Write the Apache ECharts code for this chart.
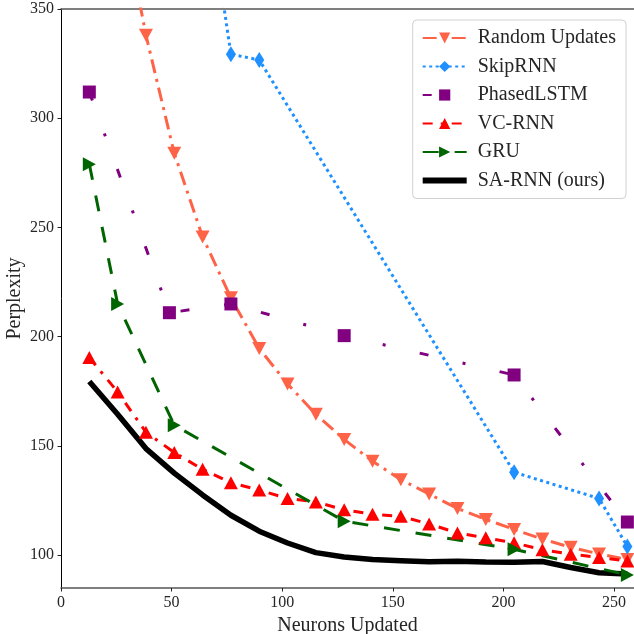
<!DOCTYPE html>
<html>
<head>
<meta charset="utf-8">
<script src="https://cdn.jsdelivr.net/npm/echarts@6/dist/echarts.min.js"></script>
<style>
  html, body { margin: 0; padding: 0; background: #fff; }
  #main { width: 634px; height: 634px; }
</style>
</head>
<body>
<div id="main"></div>
<script>
// neurons updated (x) and perplexity (y)
var xFull = [12.8, 25.6, 38.4, 51.2, 64, 76.8, 89.6, 102.4, 115.2, 128, 140.8, 153.6, 166.4, 179.2, 192, 204.8, 217.6, 230.4, 243.2, 256];

var randomX = [25.6, 38.4, 51.2, 64, 76.8, 89.6, 102.4, 115.2, 128, 140.8, 153.6, 166.4, 179.2, 192, 204.8, 217.6, 230.4, 243.2, 256];
var randomY = [405, 338, 284, 245.7, 217.8, 194.6, 178.4, 164.5, 153, 143, 134.6, 128, 121.4, 116.4, 111.8, 107.4, 103.6, 100.6, 98.1];

var skipX = [64, 76.8, 89.6, 204.8, 243.2, 256];
var skipY = [417, 329.3, 326.7, 138, 126, 104];

var phasedX = [12.8, 49, 76.8, 128, 204.8, 256];
var phasedY = [312, 211, 215, 200.5, 182.5, 115.2];

var vcY = [190.5, 174.7, 156.3, 147, 139.3, 133.2, 129.8, 126, 124.4, 120.8, 118.8, 117.8, 114.3, 110.2, 108, 105.7, 102.5, 100.5, 99, 97.4];

var gruX = [12.8, 25.6, 51.2, 128, 204.8, 256];
var gruY = [279, 215, 159.5, 115.6, 102.7, 91];

var saY = [179.5, 164.5, 148.8, 137.6, 127.6, 118.3, 111, 105.6, 101.2, 99.2, 98, 97.5, 97, 97.2, 96.9, 96.8, 97.1, 94.4, 92, 91.4];

var xTicks = [0, 50, 100, 150, 200, 250];
var yTicks = [100, 150, 200, 250, 300, 350];
var names = ['Random Updates', 'SkipRNN', 'PhasedLSTM', 'VC-RNN', 'GRU', 'SA-RNN (ours)'];

function pairs(xs, ys) {
    return xs.map(function (x, i) { return [x, ys[i]]; });
}

var serif = 'Liberation Serif';
var chart = echarts.init(document.getElementById('main'));

var legendData = names.map(function (n) {
    // the black line has no marker in the legend, just a thick bar
    if (n === 'SA-RNN (ours)') return { name: n, itemStyle: { opacity: 0 }, lineStyle: { width: 6 } };
    return { name: n };
});

var option = {
    backgroundColor: '#fff',
    animation: false,
    grid: {
        left: 61, right: 0, top: 9, bottom: 46,
        outerBoundsMode: 'none'
    },
    legend: {
        data: legendData,
        orient: 'vertical',
        right: 8,
        top: 20,
        padding: [8, 10, 8, 7],
        itemWidth: 44,
        itemHeight: 14,
        itemGap: 8.5,
        backgroundColor: 'rgba(255,255,255,0.85)',
        borderColor: '#d0d0d0',
        borderWidth: 1,
        borderRadius: 4,
        textStyle: { fontFamily: serif, fontSize: 20, color: '#262626', padding: [0, 0, 0, 6] }
    },
    xAxis: [{
        type: 'value',
        min: 0,
        max: 259,
        name: 'Neurons Updated',
        nameLocation: 'middle',
        nameGap: 21,
        nameTextStyle: { fontFamily: serif, fontSize: 20, color: '#262626' },
        splitLine: { show: false },
        axisLine: { show: true, onZero: false, lineStyle: { color: '#555', width: 1.5 } },
        axisTick: { show: true, length: 3.5, customValues: xTicks, lineStyle: { color: '#222' } },
        axisLabel: { customValues: xTicks, margin: 7, fontFamily: serif, fontSize: 16, color: '#262626' }
    }, {
        // top spine only
        type: 'value',
        position: 'top',
        min: 0,
        max: 259,
        splitLine: { show: false },
        axisLine: { show: true, onZero: false, lineStyle: { color: '#555', width: 1.5 } },
        axisTick: { show: false },
        axisLabel: { show: false }
    }],
    yAxis: {
        type: 'value',
        min: 85,
        max: 350,
        name: 'Perplexity',
        nameLocation: 'middle',
        nameGap: 36,
        nameMoveOverlap: false,
        nameTextStyle: { fontFamily: serif, fontSize: 20, color: '#262626' },
        splitLine: { show: false },
        axisLine: { show: true, onZero: false, lineStyle: { color: '#000', width: 1 } },
        axisTick: { show: true, length: 3.5, customValues: yTicks, lineStyle: { color: '#222' } },
        axisLabel: { customValues: yTicks, margin: 7, fontFamily: serif, fontSize: 16, color: '#262626' }
    },
    series: [
        {
            name: names[0], type: 'line', z: 3,
            data: pairs(randomX, randomY),
            symbol: 'triangle', symbolRotate: 180, symbolSize: [14, 13],
            lineStyle: { color: '#FF6347', width: 3, type: [14, 6, 3, 6] },
            itemStyle: { color: '#FF6347' }
        },
        {
            name: names[1], type: 'line', z: 3,
            data: pairs(skipX, skipY),
            symbol: 'diamond', symbolSize: [10, 16],
            lineStyle: { color: '#1E90FF', width: 3, type: [3, 3.5] },
            itemStyle: { color: '#1E90FF' }
        },
        {
            name: names[2], type: 'line', z: 3,
            data: pairs(phasedX, phasedY),
            symbol: 'rect', symbolSize: 13,
            lineStyle: { color: '#800080', width: 3, type: [9, 35, 3, 35] },
            itemStyle: { color: '#800080' }
        },
        {
            name: names[3], type: 'line', z: 3,
            data: pairs(xFull, vcY),
            symbol: 'triangle', symbolSize: [14, 13],
            lineStyle: { color: '#FF0000', width: 3, type: [10, 8, 3, 8] },
            itemStyle: { color: '#FF0000' }
        },
        {
            name: names[4], type: 'line', z: 3,
            data: pairs(gruX, gruY),
            symbol: 'triangle', symbolRotate: -90, symbolSize: [14, 13],
            lineStyle: { color: '#006400', width: 3, type: [16, 16] },
            itemStyle: { color: '#006400' }
        },
        {
            name: names[5], type: 'line', z: 2,
            data: pairs(xFull, saY),
            showSymbol: false, symbol: 'none',
            lineStyle: { color: '#000', width: 5.5 },
            itemStyle: { color: '#000' }
        }
    ]
};
chart.setOption(option);
</script>
</body>
</html>
